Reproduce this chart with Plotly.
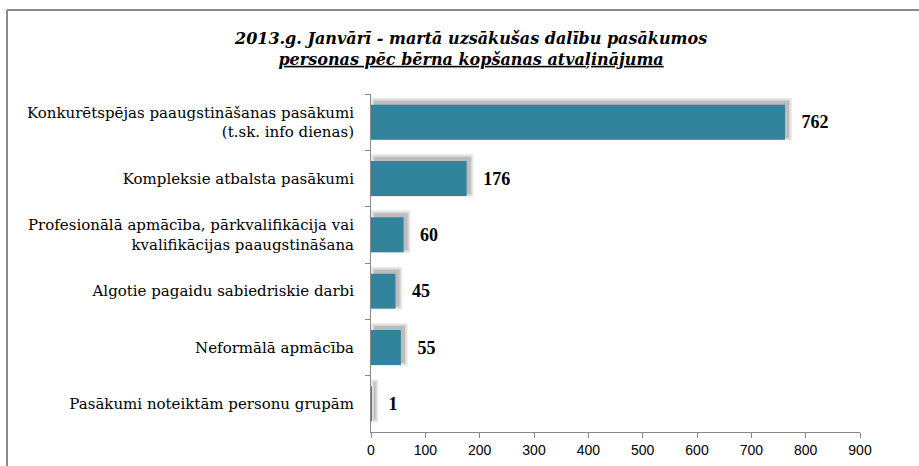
import plotly.graph_objects as go

categories = [
    "Konkurētspējas paaugstināšanas pasākumi<br>(t.sk. info dienas)",
    "Kompleksie atbalsta pasākumi",
    "Profesionālā apmācība, pārkvalifikācija vai<br>kvalifikācijas paaugstināšana",
    "Algotie pagaidu sabiedriskie darbi",
    "Neformālā apmācība",
    "Pasākumi noteiktām personu grupām",
]
values = [762, 176, 60, 45, 55, 1]
x_ticks = [0, 100, 200, 300, 400, 500, 600, 700, 800, 900]
title_line1 = "2013.g. Janvārī - martā uzsākušas dalību pasākumos"
title_line2 = "personas pēc bērna kopšanas atvaļinājuma"

W, H = 919, 466
L, R, T, B = 371, 59, 94, 34
pw, ph = W - L - R, H - T - B
XMAX = 900
UX = XMAX / pw                      # data units per pixel (x)
UY = len(categories) / ph           # category units per pixel (y)
BW = 0.62

def px(x):
    return (x - L) / pw

def py(y):
    return 1 - (y - T) / ph

SERIF = "DejaVu Serif"

fig = go.Figure()

# soft drop shadow (offset up-right), drawn as layered translucent bars
for e, a in [(4, 0.07), (2.5, 0.09), (1, 0.12)]:
    left_px = max(0.0, 4 - e)
    fig.add_trace(go.Bar(
        y=categories,
        x=[(v / UX + 3 + e - left_px) * UX for v in values],
        base=left_px * UX,
        orientation="h",
        width=BW + 2 * e * UY,
        offset=-(BW / 2) - (3 + e) * UY,
        marker=dict(color=f"rgba(0,0,0,{a})", line=dict(width=0)),
        hoverinfo="skip",
    ))

fig.add_trace(go.Bar(
    y=categories, x=values, orientation="h",
    marker=dict(color="#31849B", line=dict(width=0)),
    width=BW,
    text=["\u00a0\u00a0\u00a0" + str(v) for v in values],
    textposition="outside",
    textfont=dict(family="Liberation Serif", size=18, color="#000000", weight="bold"),
    cliponaxis=False,
))

fig.update_layout(
    width=W, height=H,
    margin=dict(l=L, r=R, t=T, b=B, autoexpand=False),
    paper_bgcolor="white", plot_bgcolor="white",
    showlegend=False,
    barmode="overlay",
    xaxis=dict(
        range=[0, XMAX], tickvals=x_ticks, ticks="outside", ticklen=5,
        tickcolor="#888888", showline=True, linecolor="#888888", linewidth=1,
        showgrid=False, zeroline=False, automargin=False,
        tickfont=dict(family="Liberation Sans", size=14, color="#000000"),
    ),
    yaxis=dict(
        type="category", autorange="reversed", tickson="boundaries",
        ticks="outside", ticklen=5, tickcolor="#888888",
        showline=True, linecolor="#888888", linewidth=1,
        showgrid=False, zeroline=False, automargin=False,
        ticklabelstandoff=13,
        tickfont=dict(family=SERIF, size=15, color="#000000"),
    ),
    annotations=[dict(
        x=px(470), y=py(49), xref="paper", yref="paper",
        xanchor="center", yanchor="middle", showarrow=False,
        text="<b><i>" + title_line1 + "<br><u>" + title_line2 + "</u></i></b>",
        font=dict(family=SERIF, size=16, color="#000000"),
    )],
    shapes=[
        dict(type="line", xref="paper", yref="paper", x0=px(7), x1=px(919), y0=py(10), y1=py(10),
             line=dict(color="#8a8a8a", width=2)),
        dict(type="line", xref="paper", yref="paper", x0=px(7), x1=px(7), y0=py(10), y1=py(466),
             line=dict(color="#8a8a8a", width=2)),
    ],
)

fig.write_html(
    "out.html",
    config={"displayModeBar": False},
    post_script="document.body.style.margin='0';document.body.style.overflow='hidden';",
)
